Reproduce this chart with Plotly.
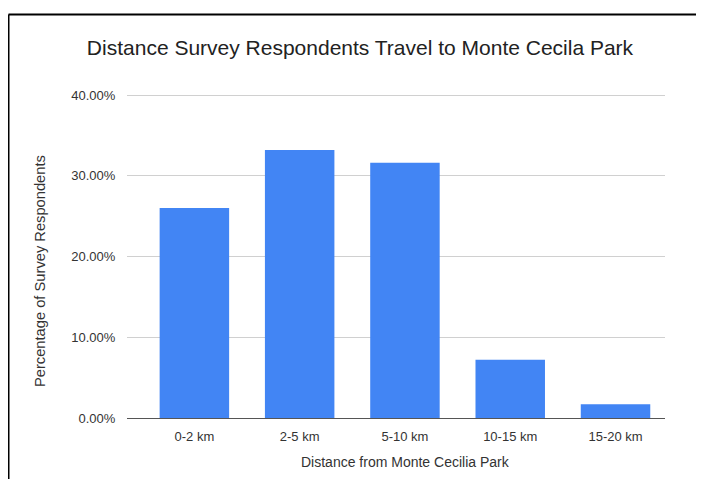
import plotly.graph_objects as go

categories = ["0-2 km", "2-5 km", "5-10 km", "10-15 km", "15-20 km"]
percentages = [26.0, 33.2, 31.6, 7.2, 1.7]
y_ticks = [0, 10, 20, 30, 40]
y_tick_labels = ["0.00%", "10.00%", "20.00%", "30.00%", "40.00%"]

# page body has an 8px margin, so figure coords = reference coords - 8
W, H = 696, 471
L, R, T, B = 119, 39, 85, 61
pw, ph = W - L - R, H - T - B

def px(x):
    return (x - L) / pw

def py(y):
    return (H - B - y) / ph

fig = go.Figure(go.Bar(x=categories, y=percentages, marker_color="#4285F4",
                       marker_line_width=0, width=0.66))

font = "Liberation Sans, Arial, sans-serif"
fig.update_layout(
    width=W, height=H,
    margin=dict(l=L, r=R, t=T, b=B),
    paper_bgcolor="white", plot_bgcolor="white",
    showlegend=False,
    font=dict(family=font, color="#444"),
    title=dict(text="Distance Survey Respondents Travel to Monte Cecila Park",
               x=352 / W, xanchor="center", y=1 - 40 / H, yanchor="middle",
               font=dict(size=21, color="#222", family=font)),
    xaxis=dict(range=[-0.64, 4.47], showgrid=False, showline=False,
               ticks="outside", ticklen=6, tickcolor="rgba(0,0,0,0)",
               tickfont=dict(size=13, color="#333")),
    yaxis=dict(range=[0, 40.25], tickvals=y_ticks, ticktext=y_tick_labels,
               showgrid=True, gridcolor="#d0d0d0", gridwidth=1,
               zeroline=True, zerolinecolor="#555", zerolinewidth=1,
               ticks="outside", ticklen=8, tickcolor="rgba(0,0,0,0)",
               tickfont=dict(size=13, color="#333")),
    annotations=[
        dict(text="Distance from Monte Cecilia Park", xref="paper", yref="paper",
             x=px(397), y=py(454), xanchor="center", yanchor="middle", showarrow=False,
             font=dict(size=14, color="#333", family=font)),
        dict(text="Percentage of Survey Respondents", xref="paper", yref="paper",
             x=px(32), y=py(263), xanchor="center", yanchor="middle", showarrow=False,
             textangle=-90, font=dict(size=14.7, color="#333", family=font)),
    ],
    shapes=[
        dict(type="line", xref="paper", yref="paper", x0=px(0.5), x1=px(720), y0=py(6.5), y1=py(6.5),
             line=dict(color="black", width=2)),
        dict(type="line", xref="paper", yref="paper", x0=px(0.5), x1=px(0.5), y0=py(6.5), y1=py(500),
             line=dict(color="black", width=2)),
    ],
)
fig.write_html("out.html")
